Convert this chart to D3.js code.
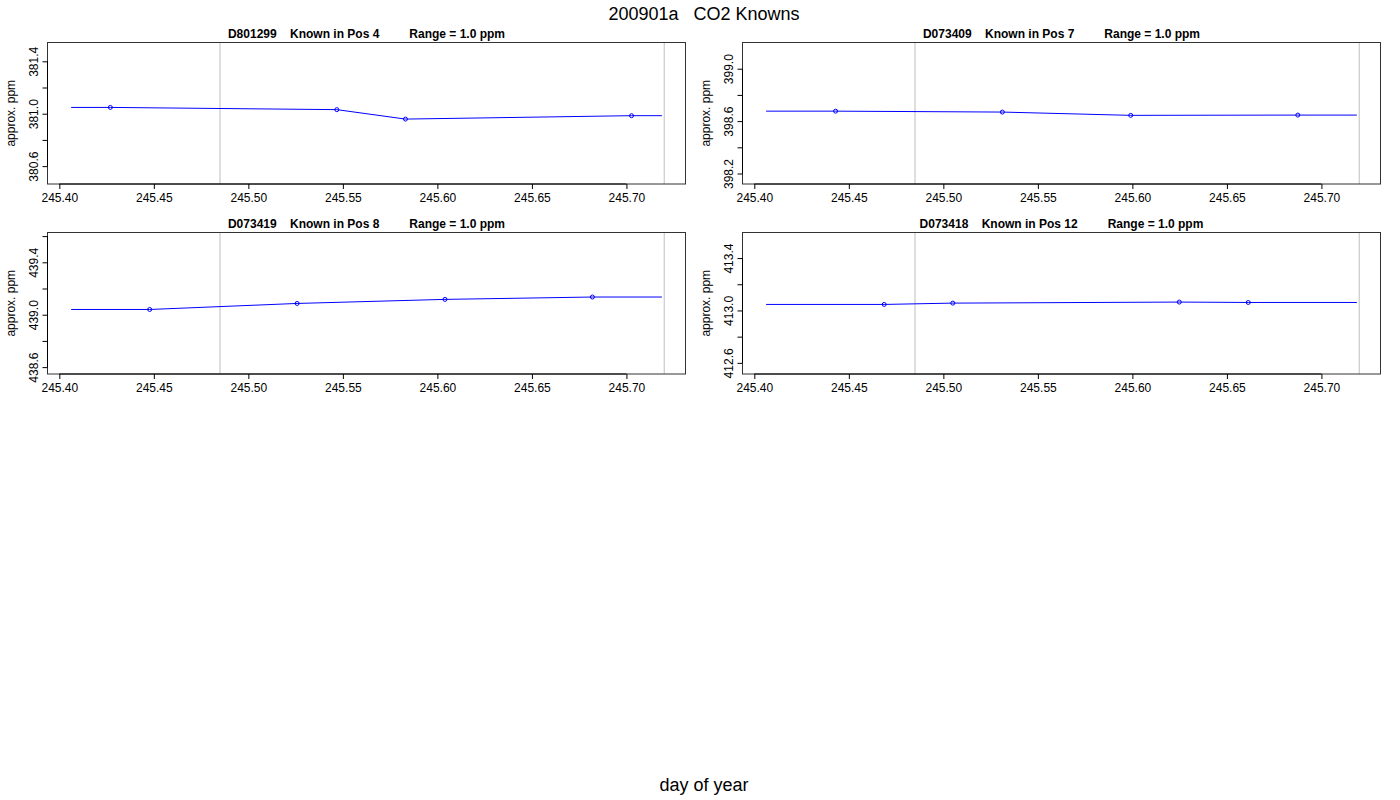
<!DOCTYPE html>
<html>
<head>
<meta charset="utf-8">
<script src="https://cdn.jsdelivr.net/npm/d3@7"></script>
<style>
  body { margin: 0; background: #fff; }
  svg { font-family: "Liberation Sans", Arial, Helvetica, sans-serif; }
  .ptitle { white-space: pre; }
</style>
</head>
<body>
<div id="viz"></div>
<script>
// --- data ---
const mainTitle = '200901a   CO2 Knowns';
const xLabel = 'day of year';
const yLabel = 'approx. ppm';

const knownIds = ['D801299', 'D073409', 'D073419', 'D073418'];
const knownPos = [4, 7, 8, 12];
const rangePpm = 1.0;

// sample times (day of year) per known
const sampleDays = [
  [245.4270, 245.5468, 245.5831, 245.7027],
  [245.4430, 245.5312, 245.5991, 245.6875],
  [245.4478, 245.5258, 245.6040, 245.6820],
  [245.4687, 245.5050, 245.6248, 245.6613]
];
// approx. ppm at each sample
const samplePpm = [
  [381.048, 381.031, 380.959, 380.985],
  [398.676, 398.669, 398.644, 398.646],
  [439.040, 439.086, 439.117, 439.135],
  [413.046, 413.056, 413.064, 413.061]
];

// run window and the grey reference marks
const runStart = 245.40625;
const runEnd = 245.71875;
const refDays = [245.485, 245.72];
const xTicks = [245.40, 245.45, 245.50, 245.55, 245.60, 245.65, 245.70];

// --- layout ---
const W = 1400, H = 800;
const colX = [47.5, 742.5];
const rowY = [42.5, 232.5];
const pw = 638, ph = 141.5;

const svg = d3.select('#viz').append('svg')
  .attr('width', W).attr('height', H);

svg.append('text')
  .attr('x', 704).attr('y', 20)
  .attr('text-anchor', 'middle')
  .style('font-size', '18px')
  .style('white-space', 'pre')
  .text(mainTitle);

svg.append('text')
  .attr('x', 704).attr('y', 791)
  .attr('text-anchor', 'middle')
  .style('font-size', '18px')
  .text(xLabel);

const pad4 = ([a, b]) => [a - (b - a) * 0.04, b + (b - a) * 0.04];
const fmtX = d3.format('.2f');
const fmtY = d3.format('.1f');

knownIds.forEach((id, i) => {
  const days = sampleDays[i];
  const ppm = samplePpm[i];
  const ox = colX[i % 2], oy = rowY[Math.floor(i / 2)];

  const g = svg.append('g').attr('transform', `translate(${ox},${oy})`);

  const x = d3.scaleLinear().domain(pad4([runStart, runEnd])).range([0, pw]);
  const [lo, hi] = d3.extent(ppm);
  const mid = (lo + hi) / 2;
  const y = d3.scaleLinear()
    .domain(pad4([mid - rangePpm / 2, mid + rangePpm / 2]))
    .range([ph, 0]);

  // grey reference lines
  g.selectAll('.ref')
    .data(refDays)
    .join('line')
    .attr('x1', d => x(d)).attr('x2', d => x(d))
    .attr('y1', 0).attr('y2', ph)
    .attr('stroke', '#bebebe')
    .attr('stroke-width', 1);

  // series line, held flat out to the run window ends
  const pts = days.map((d, k) => [d, ppm[k]]);
  const linePts = [[runStart, ppm[0]], ...pts, [runEnd, ppm[ppm.length - 1]]];

  g.append('path')
    .datum(linePts)
    .attr('d', d3.line().x(d => x(d[0])).y(d => y(d[1])))
    .attr('fill', 'none')
    .attr('stroke', '#0000ff')
    .attr('stroke-width', 1);

  g.selectAll('.pt')
    .data(pts)
    .join('circle')
    .attr('cx', d => x(d[0]))
    .attr('cy', d => y(d[1]))
    .attr('r', 2)
    .attr('fill', 'none')
    .attr('stroke', '#0000ff')
    .attr('stroke-width', 1);

  // box
  g.append('rect')
    .attr('x', 0).attr('y', 0)
    .attr('width', pw).attr('height', ph)
    .attr('fill', 'none')
    .attr('stroke', '#333')
    .attr('stroke-width', 1);

  // x axis
  const xa = g.append('g')
    .attr('transform', `translate(0,${ph})`)
    .call(d3.axisBottom(x).tickValues(xTicks).tickFormat(fmtX)
      .tickSize(5).tickPadding(4));
  xa.select('.domain').remove();
  xa.append('line')
    .attr('x1', x(xTicks[0])).attr('x2', x(xTicks[xTicks.length - 1]))
    .attr('stroke', '#000');
  xa.selectAll('text')
    .attr('fill', '#000')
    .style('font-size', '12px')
    .style('font-family', '"Liberation Sans", Arial, sans-serif');

  // y axis (ticks every 0.2, label every other one)
  const [d0, d1] = y.domain();
  const yTicks = y.ticks(5).filter(t => t > d0 + 1e-6 && t < d1 - 1e-6);
  const ya = g.append('g')
    .call(d3.axisLeft(y).tickValues(yTicks)
      .tickFormat((t, k) => (k % 2 === 0 ? fmtY(t) : ''))
      .tickSize(5));
  ya.select('.domain').remove();
  ya.append('line')
    .attr('y1', y(yTicks[0])).attr('y2', y(yTicks[yTicks.length - 1]))
    .attr('stroke', '#000');
  ya.selectAll('text')
    .attr('transform', 'rotate(-90)')
    .attr('x', 0).attr('y', -10).attr('dy', 0)
    .attr('text-anchor', 'middle')
    .attr('fill', '#000')
    .style('font-size', '12px')
    .style('font-family', '"Liberation Sans", Arial, sans-serif');

  g.append('text')
    .attr('transform', `translate(${-33},${ph / 2}) rotate(-90)`)
    .attr('text-anchor', 'middle')
    .style('font-size', '12px')
    .text(yLabel);

  g.append('text')
    .attr('class', 'ptitle')
    .attr('x', pw / 2).attr('y', -4.5)
    .attr('text-anchor', 'middle')
    .style('font-size', '12px')
    .style('font-weight', 'bold')
    .text(`${id}    Known in Pos ${knownPos[i]}         Range = ${rangePpm.toFixed(1)} ppm`);
});
</script>
</body>
</html>
